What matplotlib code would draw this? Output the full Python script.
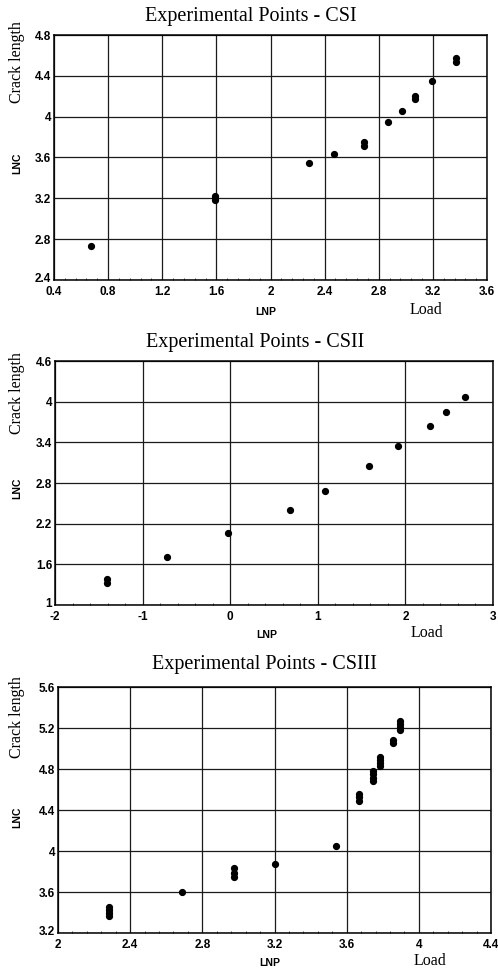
import matplotlib
matplotlib.use("Agg")
import matplotlib.pyplot as plt
from matplotlib.ticker import FixedLocator, AutoMinorLocator
from matplotlib.transforms import offset_copy

W, H = 498, 972

# ---------------- data ----------------
titles = ["Experimental Points - CSI", "Experimental Points - CSII", "Experimental Points - CSIII"]

cs1_x = [0.676, 1.592, 1.592, 1.592, 2.282, 2.471, 2.688, 2.688, 2.868, 2.971, 3.065, 3.065, 3.196, 3.370, 3.370]
cs1_y = [2.735, 3.222, 3.200, 3.182, 3.548, 3.637, 3.754, 3.715, 3.947, 4.052, 4.205, 4.169, 4.349, 4.571, 4.535]

cs2_x = [-1.41, -1.41, -0.717, -0.020, 0.677, 1.085, 1.587, 1.918, 2.276, 2.463, 2.676]
cs2_y = [1.378, 1.329, 1.712, 2.066, 2.395, 2.685, 3.048, 3.348, 3.642, 3.844, 4.070]

cs3_x = [2.285, 2.285, 2.285, 2.285, 2.690, 2.978, 2.978, 2.978, 3.202, 3.540,
         3.670, 3.670, 3.670, 3.746, 3.746, 3.746, 3.746, 3.787, 3.787, 3.787, 3.787,
         3.855, 3.855, 3.895, 3.895, 3.895, 3.895]
cs3_y = [3.455, 3.425, 3.395, 3.370, 3.602, 3.830, 3.790, 3.748, 3.874, 4.053,
         4.555, 4.522, 4.492, 4.778, 4.748, 4.716, 4.687, 4.918, 4.888, 4.858, 4.830,
         5.080, 5.050, 5.265, 5.235, 5.205, 5.180]

cs1_xticks = [0.4, 0.8, 1.2, 1.6, 2.0, 2.4, 2.8, 3.2, 3.6]
cs1_yticks = [2.4, 2.8, 3.2, 3.6, 4.0, 4.4, 4.8]
cs2_xticks = [-2, -1, 0, 1, 2, 3]
cs2_yticks = [1.0, 1.6, 2.2, 2.8, 3.4, 4.0, 4.6]
cs3_xticks = [2.0, 2.4, 2.8, 3.2, 3.6, 4.0, 4.4]
cs3_yticks = [3.2, 3.6, 4.0, 4.4, 4.8, 5.2, 5.6]

xticks = [cs1_xticks, cs2_xticks, cs3_xticks]
yticks = [cs1_yticks, cs2_yticks, cs3_yticks]
xs = [cs1_x, cs2_x, cs3_x]
ys = [cs1_y, cs2_y, cs3_y]

# ---------------- layout (pixels) ----------------
boxes = [(54, 487, 35, 280), (55, 493, 361, 605), (58, 491, 687, 933)]
title_x = [251, 255, 264]
title_y = [17, 342, 665]
crack_y = [62, 393, 717]
lnc_y = [163, 488, 817]
lnp_y = [312, 635, 963]

fig = plt.figure(figsize=(W / 100, H / 100), dpi=100)
fig.patch.set_facecolor("white")

serif = "Liberation Serif"
sans = "Liberation Sans"

def fx(px):
    return px / W

def fy(py):
    return 1 - py / H

def fmt(v, pos=None):
    s = f"{v:.1f}"
    if s.endswith(".0"):
        s = s[:-2]
    return s

for i in range(3):
    l, r, t, b = boxes[i]
    ax = fig.add_axes([fx(l), fy(b), (r - l) / W, (b - t) / H])
    ax.plot(xs[i], ys[i], "o", color="black", ms=4.2, mec="black", zorder=3)
    ax.set_xlim(xticks[i][0], xticks[i][-1])
    ax.set_ylim(yticks[i][0], yticks[i][-1])
    ax.xaxis.set_major_locator(FixedLocator(xticks[i]))
    ax.yaxis.set_major_locator(FixedLocator(yticks[i]))
    ax.xaxis.set_major_formatter(plt.FuncFormatter(fmt))
    ax.yaxis.set_major_formatter(plt.FuncFormatter(fmt))
    ax.xaxis.set_minor_locator(AutoMinorLocator(5))
    ax.grid(True, which="major", color="#1a1a1a", lw=0.9)
    ax.tick_params(which="major", length=0)
    ax.tick_params(axis="x", which="major", pad=4)
    ax.tick_params(axis="y", which="major", pad=2)
    ax.tick_params(axis="x", which="minor", direction="in", length=1.5, width=0.5, top=False)
    ax.tick_params(axis="y", which="minor", length=0)
    for sp in ax.spines.values():
        sp.set_linewidth(1.1)
        sp.set_color("black")
    for lab in ax.get_xticklabels() + ax.get_yticklabels():
        lab.set_fontfamily(sans)
        lab.set_fontweight("bold")
        lab.set_fontsize(8.5)
    # lift the bottom y label slightly so it clears the first x label
    ylabs = ax.get_yticklabels()
    ylabs[0].set_transform(offset_copy(ylabs[0].get_transform(), fig=fig, x=0, y=3, units="dots"))

    fig.text(fx(title_x[i]), fy(title_y[i]), titles[i], family=serif, fontsize=14.5,
             ha="center", va="center")
    fig.text(fx(17), fy(crack_y[i]), "Crack length", family=serif, fontsize=11.5,
             rotation=90, ha="center", va="center")
    fig.text(fx(17), fy(lnc_y[i]), "LNC", family=sans, fontweight="bold", fontsize=7.5,
             rotation=90, ha="center", va="center")
    fig.text(fx(l + 212), fy(lnp_y[i]), "LNP", family=sans, fontweight="bold", fontsize=7.5,
             ha="center", va="center")
    fig.text(fx(l + 372), fy(lnp_y[i] - 2), "Load", family=serif, fontsize=11.5,
             ha="center", va="center")

fig.savefig("out.png", dpi=100, facecolor="white")
